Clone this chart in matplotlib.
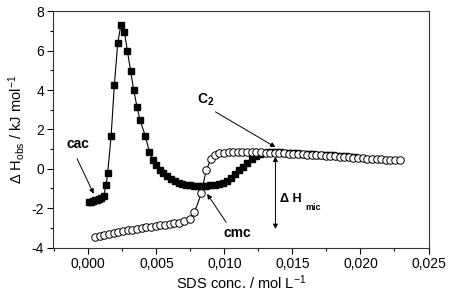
import matplotlib
matplotlib.use("Agg")
import matplotlib.pyplot as plt
from matplotlib.ticker import MultipleLocator, FuncFormatter

plt.rcParams['font.family'] = ['Liberation Sans', 'DejaVu Sans']
plt.rcParams['mathtext.fontset'] = 'custom'
plt.rcParams['mathtext.rm'] = 'Liberation Sans'
plt.rcParams['mathtext.it'] = 'Liberation Sans:italic'
plt.rcParams['mathtext.bf'] = 'Liberation Sans:bold'

# Filled squares series
sq_x = [0.00005, 0.0002, 0.00035, 0.0005, 0.00065, 0.0008, 0.00095, 0.00112,
        0.0013, 0.00142, 0.00167, 0.00191, 0.00216, 0.00238, 0.00265, 0.00287,
        0.00311, 0.00333, 0.00358, 0.0038, 0.00419, 0.00449, 0.00476, 0.00500,
        0.00524, 0.00549, 0.00578, 0.00605, 0.00634, 0.00663, 0.00690, 0.00720,
        0.00749, 0.00779, 0.00809, 0.00838, 0.00868, 0.00897, 0.00929, 0.00958,
        0.00990, 0.01019, 0.01049, 0.01078, 0.01108, 0.01138, 0.01167, 0.01201,
        0.0123, 0.0126, 0.0129, 0.0132, 0.0135, 0.0138, 0.0141, 0.0144, 0.0147,
        0.0150, 0.0153, 0.0156, 0.0159, 0.0162, 0.0165, 0.0168, 0.0171, 0.0174,
        0.0177, 0.0180, 0.0183, 0.0186, 0.0189, 0.0192, 0.0195]
sq_y = [-1.70, -1.67, -1.64, -1.61, -1.58, -1.54, -1.48, -1.38,
        -0.85, -0.20, 1.66, 4.27, 6.39, 7.28, 6.95, 5.98,
        4.95, 3.99, 3.14, 2.46, 1.66, 0.85, 0.46, 0.17,
        -0.05, -0.22, -0.38, -0.51, -0.61, -0.70, -0.76, -0.82,
        -0.85, -0.89, -0.89, -0.89, -0.87, -0.84, -0.80, -0.76,
        -0.71, -0.63, -0.49, -0.27, -0.08, 0.11, 0.29, 0.49,
        0.63, 0.73, 0.80, 0.84, 0.85, 0.84, 0.83, 0.82, 0.81,
        0.80, 0.78, 0.77, 0.76, 0.75, 0.74, 0.72, 0.71, 0.70,
        0.69, 0.68, 0.66, 0.65, 0.64, 0.62, 0.61]

# Open circles series
ci_x = [0.00046, 0.00083, 0.00118, 0.00152, 0.00186, 0.00221, 0.00255, 0.00289,
        0.00324, 0.00358, 0.00392, 0.00426, 0.00461, 0.00495, 0.00529, 0.00564,
        0.00598, 0.00632, 0.00669, 0.00706, 0.00745, 0.00780, 0.00831, 0.00865,
        0.00901, 0.00928, 0.00963, 0.00995, 0.01030, 0.01064, 0.01098, 0.01132,
        0.01166, 0.01200, 0.01234, 0.01268, 0.01302, 0.01336, 0.01370, 0.01404,
        0.01438, 0.01472, 0.01506, 0.01540, 0.01574, 0.01608, 0.01642, 0.01676,
        0.01710, 0.01744, 0.01778, 0.01812, 0.01846, 0.01880, 0.01914, 0.01948,
        0.01982, 0.02016, 0.02050, 0.02084, 0.02118, 0.02152, 0.02186, 0.02220,
        0.02254, 0.02290]
ci_y = [-3.48, -3.41, -3.36, -3.31, -3.25, -3.20, -3.15, -3.12,
        -3.09, -3.05, -3.02, -2.98, -2.95, -2.92, -2.88, -2.85,
        -2.81, -2.78, -2.73, -2.64, -2.54, -2.21, -1.24, -0.08,
        0.49, 0.68, 0.78, 0.82, 0.84, 0.85, 0.85, 0.85,
        0.85, 0.84, 0.84, 0.83, 0.82, 0.81, 0.80, 0.79,
        0.78, 0.77, 0.75, 0.74, 0.73, 0.72, 0.70, 0.69,
        0.68, 0.66, 0.65, 0.63, 0.61, 0.60, 0.58, 0.57,
        0.55, 0.54, 0.52, 0.51, 0.50, 0.48, 0.47, 0.46,
        0.45, 0.43]

x_ticks = [0.000, 0.005, 0.010, 0.015, 0.020, 0.025]
y_ticks = [-4, -2, 0, 2, 4, 6, 8]

fig = plt.figure(figsize=(4.5, 2.96), dpi=100)
ax = fig.add_axes([53/450, 1 - 247.5/296, (428.5-53)/450, (247.5-11.3)/296])

ax.plot(sq_x, sq_y, color='black', lw=0.8, marker='s', ms=4.2,
        mfc='black', mec='black', zorder=3)
ax.plot(ci_x, ci_y, color='black', lw=0.8, marker='o', ms=5.4,
        mfc='white', mec='black', mew=0.7, zorder=4)

ax.set_xlim(-0.0026, 0.025)
ax.set_ylim(-4, 8)
ax.set_xticks(x_ticks)
ax.set_yticks(y_ticks)
ax.xaxis.set_minor_locator(MultipleLocator(0.0025))
ax.yaxis.set_minor_locator(MultipleLocator(1))
ax.xaxis.set_major_formatter(FuncFormatter(lambda v, p: f"{v:.3f}".replace('.', ',')))
ax.yaxis.set_major_formatter(FuncFormatter(lambda v, p: f"{v:.0f}"))
ax.tick_params(which='major', direction='out', length=4, width=0.8, labelsize=10, pad=2.5)
ax.tick_params(which='minor', direction='out', length=2, width=0.8)
for s in ax.spines.values():
    s.set_linewidth(0.8)
    s.set_color('#333333')

ax.set_xlabel(r"SDS conc. / mol L$^{\mathrm{-1}}$", fontsize=10.5, labelpad=2)
ax.set_ylabel(r"Δ H$_{\mathrm{obs}}$ / kJ mol$^{\mathrm{-1}}$", fontsize=10.5, labelpad=3)

akw = dict(arrowstyle='-|>', color='black', lw=0.7, mutation_scale=7, shrinkA=0, shrinkB=0)

ax.text(-0.00077, 1.24, "cac", fontsize=10, fontweight='bold', ha='center', va='center')
ax.annotate("", xy=(0.00039, -1.27), xytext=(-0.00083, 0.51), arrowprops=akw)

ax.text(0.01093, -3.28, "cmc", fontsize=10, fontweight='bold', ha='center', va='center')
ax.annotate("", xy=(0.00873, -1.28), xytext=(0.01013, -2.72), arrowprops=akw)

ax.text(0.00862, 3.48, r"$\mathbf{C_2}$", fontsize=10, ha='center', va='center')
ax.annotate("", xy=(0.01375, 1.10), xytext=(0.00934, 2.89), arrowprops=akw)

ax.annotate("", xy=(0.01375, 0.62), xytext=(0.01375, -3.06),
            arrowprops=dict(arrowstyle='<|-|>', color='black', lw=0.7,
                            mutation_scale=7, shrinkA=0, shrinkB=0))
ax.text(0.01491, -1.52, "Δ H", fontsize=9, fontweight='bold', ha='center', va='center')
ax.text(0.01651, -1.96, "mic", fontsize=6.5, fontweight='bold', ha='center', va='center')

fig.savefig("out.png", dpi=100)
